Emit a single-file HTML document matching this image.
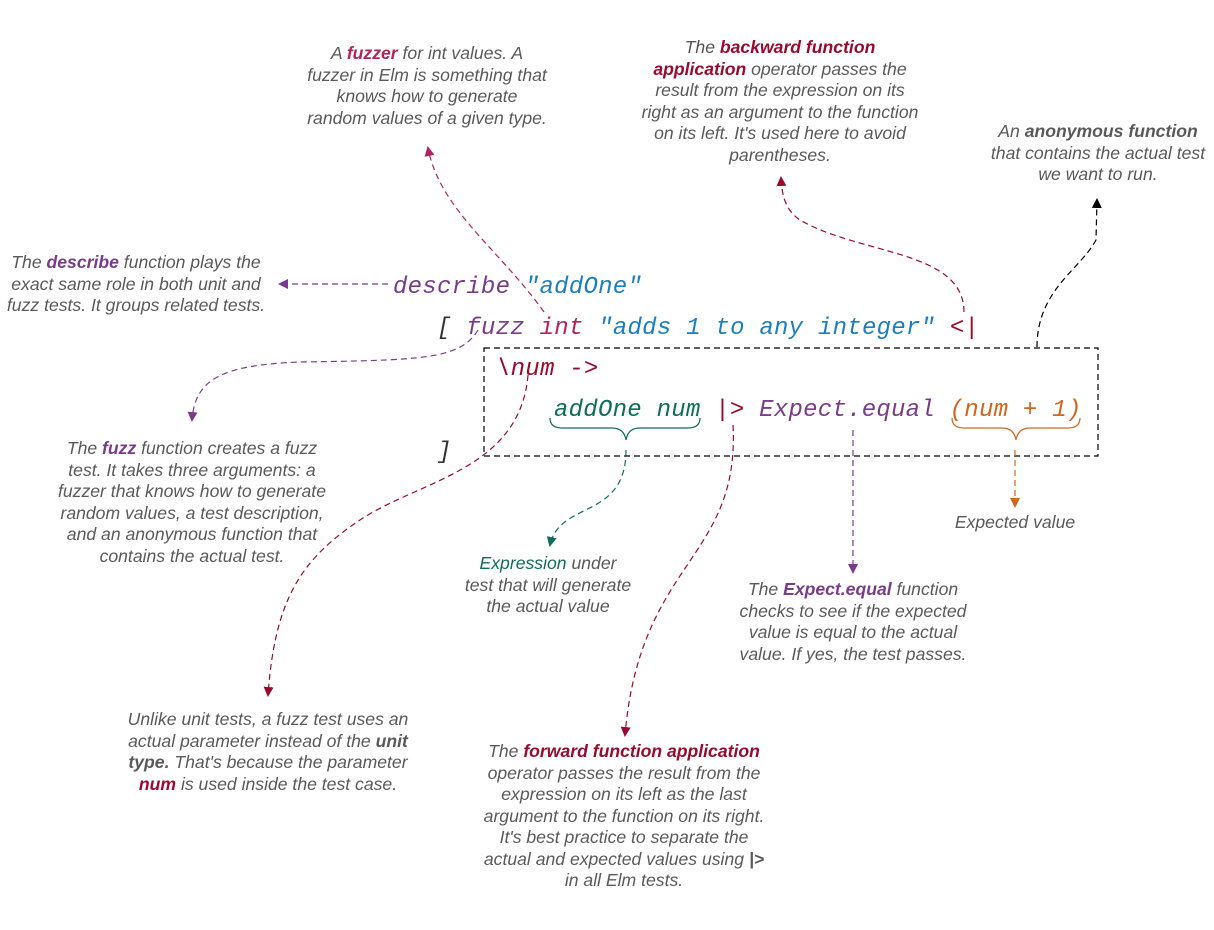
<!DOCTYPE html>
<html><head><meta charset="utf-8"><style>
body{margin:0;width:1214px;height:930px;background:#fff;position:relative;overflow:hidden}
.n{position:absolute;font-family:"Liberation Sans",sans-serif;font-style:italic;font-size:17.6px;line-height:21.5px;color:#5a5a5a;text-align:center;white-space:nowrap;transform:translateX(-50%)}
b{font-weight:bold}
.pu{color:#7b3b8c}.cr{color:#b3245c}.dr{color:#9b0a2e}.gr{color:#0d6e5a}.dk{color:#555}
svg{position:absolute;left:0;top:0}
svg text{font-family:"Liberation Mono",monospace;font-style:italic;font-size:24px;letter-spacing:0.25px}
</style></head><body>
<svg width="1214" height="930" viewBox="0 0 1214 930">
<defs>
<marker id="mP" markerWidth="10" markerHeight="10" refX="8" refY="5" orient="auto" markerUnits="userSpaceOnUse"><path d="M0,0L10,5L0,10z" fill="#7b3b8c"/></marker>
<marker id="mC" markerWidth="10" markerHeight="10" refX="8" refY="5" orient="auto" markerUnits="userSpaceOnUse"><path d="M0,0L10,5L0,10z" fill="#b3245c"/></marker>
<marker id="mR" markerWidth="10" markerHeight="10" refX="8" refY="5" orient="auto" markerUnits="userSpaceOnUse"><path d="M0,0L10,5L0,10z" fill="#9b0a2e"/></marker>
<marker id="mK" markerWidth="10" markerHeight="10" refX="8" refY="5" orient="auto" markerUnits="userSpaceOnUse"><path d="M0,0L10,5L0,10z" fill="#000"/></marker>
<marker id="mG" markerWidth="10" markerHeight="10" refX="8" refY="5" orient="auto" markerUnits="userSpaceOnUse"><path d="M0,0L10,5L0,10z" fill="#0d6e5a"/></marker>
<marker id="mO" markerWidth="10" markerHeight="10" refX="8" refY="5" orient="auto" markerUnits="userSpaceOnUse"><path d="M0,0L10,5L0,10z" fill="#d4661c"/></marker>
</defs>
<g fill="none" stroke-width="1.2" stroke-dasharray="6,4">
<rect x="484" y="348" width="614" height="108" stroke="#000"/>
<path d="M388,284 L280,284" stroke="#7b3b8c" marker-end="url(#mP)"/>
<path d="M544,312 C500,250 440,210 428,148" stroke="#b3245c" marker-end="url(#mC)"/>
<path d="M964,312 C964,250 860,255 800,220 C785,210 782,195 781,178" stroke="#9b0a2e" marker-end="url(#mR)"/>
<path d="M1037,347 C1037,290 1080,270 1096,240 L1097,200" stroke="#000" marker-end="url(#mK)"/>
<path d="M478,330 C460,360 420,360 300,362 C220,365 195,380 192,420" stroke="#7b3b8c" marker-end="url(#mP)"/>
<path d="M528,375 C520,470 420,480 360,520 C300,560 275,600 268,695" stroke="#9b0a2e" marker-end="url(#mR)"/>
<path d="M626,450 C626,520 560,500 550,545" stroke="#0d6e5a" marker-end="url(#mG)"/>
<path d="M733,425 C740,560 640,560 625,735" stroke="#9b0a2e" marker-end="url(#mR)"/>
<path d="M853,430 L853,572" stroke="#7b3b8c" marker-end="url(#mP)"/>
<path d="M1015,450 L1015,506" stroke="#d4661c" marker-end="url(#mO)"/>
</g>
<path d="M550,418 q0,10 12,10 h50 q12,0 14,12 q2,-12 14,-12 h48 q12,0 12,-10" fill="none" stroke="#0d6e5a" stroke-width="1.2"/>
<path d="M952,418 q0,10 12,10 h38 q12,0 14,12 q2,-12 14,-12 h38 q12,0 12,-10" fill="none" stroke="#d4661c" stroke-width="1.2"/>
<text x="393" y="293" fill="#7b3b8c">describe <tspan fill="#1a7fc1">"addOne"</tspan></text>
<text x="437" y="334" fill="#333">[ <tspan fill="#7b3b8c">fuzz</tspan> <tspan fill="#b3245c">int</tspan> <tspan fill="#1a7fc1">"adds 1 to any integer"</tspan> <tspan fill="#9b0a2e">&lt;|</tspan></text>
<text x="496" y="375" fill="#9b0a2e">\num -&gt;</text>
<text x="554" y="416" fill="#0d6e5a">addOne num <tspan fill="#9b0a2e">|&gt;</tspan> <tspan fill="#7b3b8c">Expect.equal</tspan> <tspan fill="#d4661c">(num + 1)</tspan></text>
<text x="437" y="458" fill="#333">]</text>
</svg>
<div class="n" style="left:427px;top:43px">A <b class="cr">fuzzer</b> for int values. A<br>fuzzer in Elm is something that<br>knows how to generate<br>random values of a given type.</div>
<div class="n" style="left:780px;top:37px"><span class="dk">The</span> <b class="dr">backward function<br>application</b> operator passes the<br>result from the expression on its<br>right as an argument to the function<br>on its left. It's used here to avoid<br>parentheses.</div>
<div class="n" style="left:1098px;top:121px">An <b>anonymous function</b><br>that contains the actual test<br>we want to run.</div>
<div class="n" style="left:136px;top:252px">The <b class="pu">describe</b> function plays the<br>exact same role in both unit and<br>fuzz tests. It groups related tests.</div>
<div class="n" style="left:192px;top:438px">The <b class="pu">fuzz</b> function creates a fuzz<br>test. It takes three arguments: a<br>fuzzer that knows how to generate<br>random values, a test description,<br>and an anonymous function that<br>contains the actual test.</div>
<div class="n" style="left:1015px;top:512px">Expected value</div>
<div class="n" style="left:548px;top:553px"><span class="gr">Expression</span> under<br>test that will generate<br>the actual value</div>
<div class="n" style="left:853px;top:579px">The <b class="pu">Expect.equal</b> function<br>checks to see if the expected<br>value is equal to the actual<br>value. If yes, the test passes.</div>
<div class="n" style="left:268px;top:709px">Unlike unit tests, a fuzz test uses an<br>actual parameter instead of the <b>unit<br>type.</b> That's because the parameter<br><b class="dr">num</b> is used inside the test case.</div>
<div class="n" style="left:624px;top:741px">The <b class="dr">forward function application</b><br>operator passes the result from the<br>expression on its left as the last<br>argument to the function on its right.<br>It's best practice to separate the<br>actual and expected values using <b>|&gt;</b><br>in all Elm tests.</div>
</body></html>
